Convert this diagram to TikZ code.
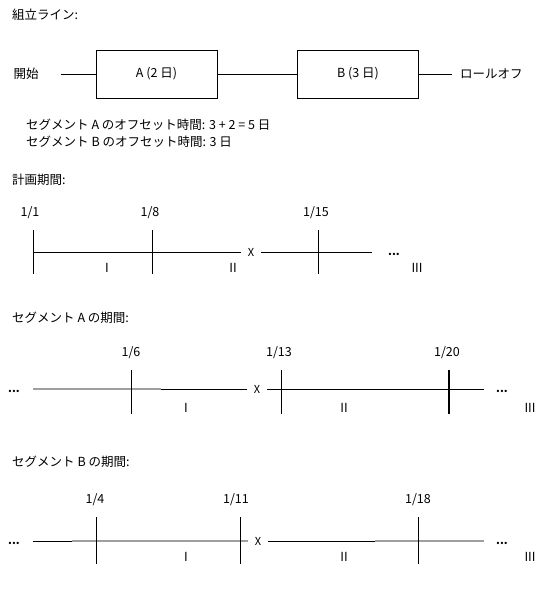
\documentclass[tikz,border=0pt]{standalone}
\usepackage{fontspec}
\setmainfont{Noto Sans CJK JP}
\usetikzlibrary{positioning}

\begin{document}
\begin{tikzpicture}[
        x=1pt, y=-1pt,
        every node/.style={font=\fontsize{12.5}{15}\selectfont, inner sep=0pt},
        heading/.style={anchor=west},
        stagebox/.style={rectangle, draw, line width=0.8pt,
            minimum width=121pt, minimum height=48pt},
        link/.style={line width=0.8pt},
        cross/.style={inner xsep=7pt, font=\fontsize{11}{13}\selectfont},
        tickline/.style={line width=0.8pt},
        boldtick/.style={line width=1.8pt},
        shadeline/.style={line width=1.3pt, gray!75},
        dots/.style={font=\bfseries\fontsize{11}{13}\selectfont}
    ]
        \useasboundingbox (0,0) rectangle (540,612);

        \node[heading] (line) at (12,15) {組立ライン:};
        \node (kaishi) at (26,74) {開始};
        \node[stagebox] (boxA) at (156.5,74) {A (2 日)};
        \node[stagebox] (boxB) at (358,74) {B (3 日)};
        \node[heading] (rolloff) at (460,74) {ロールオフ};
        \draw[link, shorten <=22pt] (kaishi) -- (boxA);
        \draw[link] (boxA) -- (boxB);
        \draw[link, shorten >=8pt] (boxB) -- (rolloff);

        \node[heading] (offA) at (26,125) {セグメント A のオフセット時間: 3 + 2 = 5 日};
        \node[heading] (offB) at (26,142) {セグメント B のオフセット時間: 3 日};

        \node[heading] (plan) at (12,180) {計画期間:};
        \node (p1) at (30,213) {1/1};
        \node (p8) at (150,213) {1/8};
        \node (p15) at (316,213) {1/15};
        \node[cross] (px) at (251,252) {X};
        \coordinate (ps) at (33,252);
        \coordinate (pe) at (372,252);
        \draw[link] (ps) -- (px);
        \draw[link] (px) -- (pe);
        \foreach \x in {33,152,318}
            \draw[tickline] (\x,230) -- (\x,274);
        \node[dots] (pdots) at (394,254) {...};
        \node (pI) at (107,268) {I};
        \node (pII) at (233,268) {II};
        \node (pIII) at (417,268) {III};

        \node[heading] (segA) at (12,318) {セグメント A の期間:};
        \node (a6) at (131,353) {1/6};
        \node (a13) at (279,353) {1/13};
        \node (a20) at (447,353) {1/20};
        \node[cross] (ax) at (257,389) {X};
        \coordinate (as) at (33,389);
        \coordinate (am) at (161,389);
        \coordinate (ae) at (484,389);
        \draw[shadeline] (as) -- (am);
        \draw[link] (am) -- (ax);
        \draw[link] (ax) -- (ae);
        \foreach \x in {131,281}
            \draw[tickline] (\x,370) -- (\x,414);
        \draw[boldtick] (449,370) -- (449,414);
        \node[dots] (adotsl) at (14,391) {...};
        \node[dots] (adotsr) at (502,391) {...};
        \node (aI) at (186,408) {I};
        \node (aII) at (344,408) {II};
        \node (aIII) at (530,408) {III};

        \node[heading] (segB) at (12,462) {セグメント B の期間:};
        \node (b4) at (95,500) {1/4};
        \node (b11) at (236,500) {1/11};
        \node (b18) at (418,500) {1/18};
        \node[cross] (bx) at (258,541) {X};
        \coordinate (bs) at (33,541);
        \coordinate (bm) at (72,541);
        \coordinate (bn) at (375,541);
        \coordinate (be) at (484,541);
        \draw[link] (bs) -- (bm);
        \draw[shadeline] (bm) -- (bx);
        \draw[link] (bx) -- (bn);
        \draw[shadeline] (bn) -- (be);
        \foreach \x in {96,240,418}
            \draw[tickline] (\x,517) -- (\x,564);
        \node[dots] (bdotsl) at (14,543) {...};
        \node[dots] (bdotsr) at (502,543) {...};
        \node (bI) at (186,557) {I};
        \node (bII) at (344,557) {II};
        \node (bIII) at (530,557) {III};
    \end{tikzpicture}
\end{document}
